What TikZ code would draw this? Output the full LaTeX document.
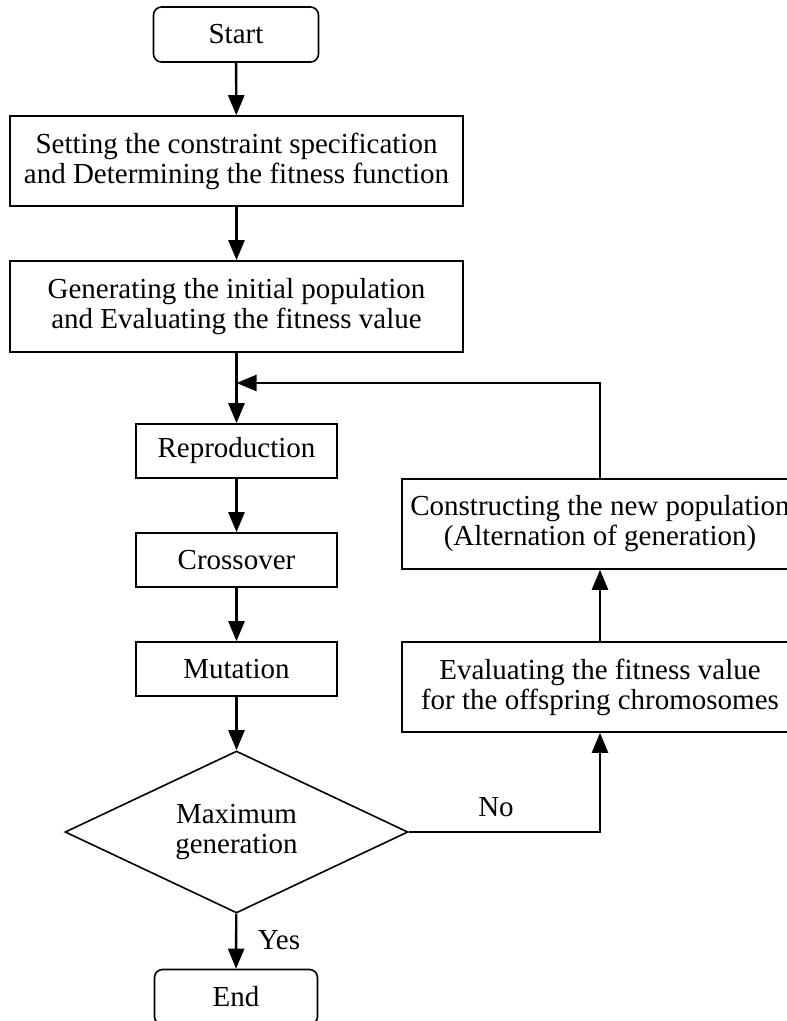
\documentclass[tikz,border=0pt]{standalone}
\usepackage{fontspec}
\setmainfont{Liberation Serif}
\usetikzlibrary{shapes.geometric,arrows.meta}
\begin{document}
\begin{tikzpicture}[x=1pt, y=-1pt, >={Triangle[length=20pt,width=16pt]},
	every node/.style={font=\fontsize{29}{30}\selectfont},
	procbox/.style={draw, line width=1.6pt, align=center, inner sep=0pt},
	termbox/.style={procbox, rounded corners=8pt},
	decbox/.style={draw, diamond, shape aspect=2.1, line width=1.6pt, align=center, inner sep=0pt},
	flow/.style={->, line width=2.4pt}]
	\useasboundingbox (0,0) rectangle (787,1021);
	\clip (0,0) rectangle (787,1021);
	
	% 主流程
	\node[termbox, minimum width=165pt, minimum height=55pt] (start) at (236,34.5) {Start};
	\node[procbox, minimum width=453pt, minimum height=90pt] (spec) at (236.5,161) {Setting the constraint specification\\and Determining the fitness function};
	\node[procbox, minimum width=453pt, minimum height=91pt] (init) at (236.5,306.5) {Generating the initial population\\and Evaluating the fitness value};
	\node[procbox, minimum width=201pt, minimum height=54pt] (repro) at (236.5,451) {Reproduction};
	\node[procbox, minimum width=201pt, minimum height=54pt] (cross) at (236.5,560) {Crossover};
	\node[procbox, minimum width=201pt, minimum height=54pt] (mut) at (236.5,669) {Mutation};
	\node[decbox, minimum width=343pt, minimum height=162pt] (maxgen) at (236.5,832) {Maximum\\generation};
	\node[termbox, minimum width=163pt, minimum height=55pt] (end) at (236,997) {End};
	
	% 右侧回路
	\node[procbox, minimum width=396pt, minimum height=90pt] (evalo) at (600,687) {Evaluating the fitness value\\for the offspring chromosomes};
	\node[procbox, minimum width=396pt, minimum height=90pt] (newpop) at (600,524) {Constructing the new population\\(Alternation of generation)};
	\coordinate (join) at (236.5,383);
	
	% 连线
	\draw[flow] (start) -- (spec);
	\draw[flow] (spec) -- (init);
	\draw[flow] (init) -- (repro);
	\draw[flow] (repro) -- (cross);
	\draw[flow] (cross) -- (mut);
	\draw[flow] (mut) -- (maxgen);
	\draw[flow] (maxgen) -- (end);
	\draw[flow] (maxgen.east) -| (evalo.south);
	\draw[flow] (evalo) -- (newpop);
	\draw[flow] (newpop.north) |- (join);
	
	% 标签
	\node (yes) at (279,940) {Yes};
	\node (no) at (496,807) {No};
\end{tikzpicture}
\end{document}
